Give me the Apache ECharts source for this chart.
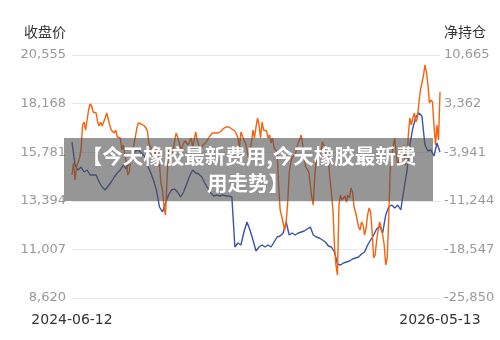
<!DOCTYPE html>
<html>
<head>
<meta charset="utf-8">
<script src="https://cdn.jsdelivr.net/npm/echarts@6/dist/echarts.min.js"></script>
<style>html,body{margin:0;padding:0;background:#fff}#c{width:500px;height:340px}</style>
</head>
<body>
<div id="c"></div>
<script>
var startDate = '2024-06-12';
var endDate = '2026-05-13';
var leftName = '收盘价';
var rightName = '净持仓';
var bannerLine1 = '【今天橡胶最新费用,今天橡胶最新费';
var bannerLine2 = '用走势】';
var leftTicks = [8620, 11007, 13394, 15781, 18168, 20555];
var rightTicks = [-25850, -18547, -11244, -3941, 3362, 10665];

// 收盘价, sampled on every second date
var closePrice = [16282,15152,14907,15054,14809,14907,14661,14661,14661,14317,14072,13924,14121,14317,14563,14759,14907,15152,14956,15300,15594,15840,15889,15742,15594,15152,14809,14416,13924,13090,12844,13286,13679,13924,13974,13826,13581,13826,14219,14612,14907,14759,14710,14563,14268,14023,13777,13630,13679,13630,13679,13630,13630,13581,11125,11321,11223,11862,12353,11960,11469,10928,11125,11223,11125,11223,11125,11370,11616,11665,11813,12353,11714,11813,11714,11813,11862,11911,12009,12107,11714,11616,11567,11469,11370,11174,11125,10879,10290,10241,10339,10388,10437,10536,10585,10634,10781,10879,11223,11469,11714,12009,12156,11813,12697,13090,13188,13040,13188,12942,13924,14809,16135,16970,17510,17706,17559,16135,15840,15889,15594,16233,15791];

// 净持仓 on the same dates as closePrice
var netPositionA = [-7367,-8119,-6316,-3611,597,-305,3302,2100,1949,-4,-4,1198,2100,-605,-1056,-1657,-1807,-2859,-5414,-6917,-4061,-1657,447,296,-4,-756,-3160,-4663,-3911,-5865,-9621,-13378,-3611,-4813,-3611,-1657,-3611,-2559,-2258,-2859,-3160,-906,-2859,-3611,-2559,-2108,-1357,-906,-1056,-906,-455,-154,-154,-455,-756,-1807,-906,-2108,-3611,-3611,-605,-154,146,597,-605,-1807,-2559,-3310,-3911,-12627,-13378,-14430,-7067,-4663,-4362,-2559,-1357,-4813,-6316,-8870,-11876,-5113,-4813,-2408,-3310,-5113,-10072,-17886,-22394,-10373,-11124,-11425,-10824,-9922,-12927,-15181,-14430,-16384,-13378,-12927,-19840,-17135,-14430,-16384,-20892,-13829,-4663,-1807,-5865,-3611,-2859,-5414,1198,1198,597,3452,6457,9162,6157,3903,146,146,5105];
// 净持仓 on the dates in between
var netPositionB = [-5564,-6165,-4813,146,-605,2400,3001,2100,597,597,597,1949,146,-756,-605,-1357,-3611,-4362,-7367,-4813,-2859,-305,447,146,-305,-2709,-3611,-3761,-5564,-8570,-12176,-8119,-4813,-3611,-1056,-2408,-3160,-2258,-2859,-1807,-2108,-2108,-3460,-2859,-2408,-1657,-1056,-1056,-1056,-756,-305,-154,-305,-605,-1206,-3310,-1507,-2559,-4663,-2559,-1807,1198,-1807,-605,-756,-1357,-1807,-3160,-8870,-13528,-15632,-11575,-5564,-4663,-3310,-1958,-2859,-6165,-6917,-10673,-7367,-3911,-4362,-2108,-4663,-7818,-12627,-20892,-11876,-11124,-10523,-10373,-9321,-12176,-12927,-15632,-14881,-15332,-12326,-15933,-19389,-15632,-15332,-17886,-19840,-6616,-3010,-4362,-5113,-4362,-5865,-1357,146,1949,1198,5406,7509,8110,3452,3602,-2859,-2108];

function pad(n){return (n<10?'0':'')+n;}
var total = netPositionA.length + netPositionB.length;
var categories = (function(){
  var s = new Date(startDate+'T00:00:00Z').getTime(), e = new Date(endDate+'T00:00:00Z').getTime();
  var days = Math.round((e-s)/86400000), out = [];
  for (var i=0;i<total;i++){
    var d = new Date(s + Math.round(days*i/(total-1))*86400000);
    out.push(d.getUTCFullYear()+'-'+pad(d.getUTCMonth()+1)+'-'+pad(d.getUTCDate()));
  }
  return out;
})();

var priceData = [], netData = [];
for (var i=0;i<total;i++){
  if (i%2===0){ priceData.push(closePrice[i/2]); netData.push(netPositionA[i/2]); }
  else { priceData.push(null); netData.push(netPositionB[(i-1)/2]); }
}

function fmt(v){return Number(v).toLocaleString('en-US');}

var chart = echarts.init(document.getElementById('c'), null, {renderer:'canvas'});
var lastIdx = categories.length - 1;
var bannerFont = 'bold 20.5px "Noto Sans CJK SC"';
chart.setOption({
  animation:false,
  backgroundColor:'#fff',
  grid:{left:72,right:60,top:55,bottom:42},
  xAxis:{
    type:'category', data:categories, boundaryGap:false,
    axisLine:{show:false}, axisTick:{show:false},
    axisLabel:{
      interval:function(i){return i===0||i===lastIdx;},
      color:'#333', fontSize:14, fontFamily:'DejaVu Sans', margin:15,
      showMinLabel:true, showMaxLabel:true
    }
  },
  yAxis:[{
    type:'value', min:leftTicks[0], max:leftTicks[leftTicks.length-1], interval:leftTicks[1]-leftTicks[0],
    name:leftName, nameLocation:'end', nameGap:16,
    nameTextStyle:{color:'#333', fontSize:14, fontFamily:'Noto Sans CJK SC', align:'right', padding:[0,6,0,0]},
    axisLine:{show:false}, axisTick:{show:false},
    axisLabel:{color:'#999', fontSize:13, fontFamily:'DejaVu Sans', margin:6, formatter:fmt},
    splitLine:{lineStyle:{color:'#e8e8e8'}}
  },{
    type:'value', min:rightTicks[0], max:rightTicks[rightTicks.length-1], interval:rightTicks[1]-rightTicks[0],
    name:rightName, nameLocation:'end', nameGap:16,
    nameTextStyle:{color:'#333', fontSize:14, fontFamily:'Noto Sans CJK SC', align:'left', padding:[0,0,0,4]},
    axisLine:{show:false}, axisTick:{show:false},
    axisLabel:{color:'#999', fontSize:13, fontFamily:'DejaVu Sans', margin:4, formatter:fmt},
    splitLine:{show:false}
  }],
  series:[{
    name:leftName, type:'line', yAxisIndex:0, data:priceData, symbol:'none', connectNulls:true,
    lineStyle:{color:'#3a53a8', width:1.4}, itemStyle:{color:'#3a53a8'}, z:2
  },{
    name:rightName, type:'line', yAxisIndex:1, data:netData, symbol:'none',
    lineStyle:{color:'#f5620e', width:1.4}, itemStyle:{color:'#f5620e'}, z:3
  }],
  graphic:[{
    type:'rect', left:64, top:138, z:100,
    shape:{width:369, height:63},
    style:{fill:'rgba(80,80,80,0.6)'}
  },{
    type:'text', z:101, x:249, y:156,
    style:{text:bannerLine1, fill:'#fff', font:bannerFont, align:'center', verticalAlign:'middle'}
  },{
    type:'text', z:101, x:207, y:183,
    style:{text:bannerLine2, fill:'#fff', font:bannerFont, align:'left', verticalAlign:'middle'}
  }]
});
</script>
</body>
</html>
